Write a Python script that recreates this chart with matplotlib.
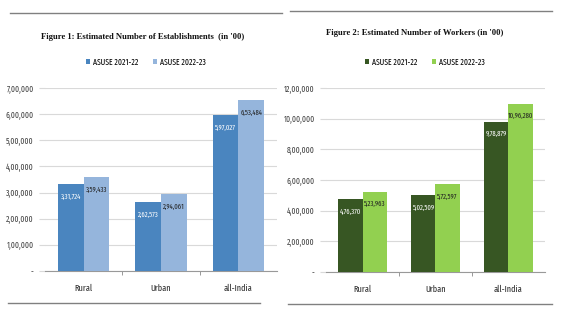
import numpy as np
import matplotlib
matplotlib.use("Agg")
from matplotlib import pyplot as plt
from matplotlib.lines import Line2D
from matplotlib.ticker import FuncFormatter

# Data (in '00)
regions = ["Rural", "Urban", "all-India"]
series_names = ["ASUSE 2021-22", "ASUSE 2022-23"]
estab_2122 = [331724, 262573, 597027]
estab_2223 = [359433, 294061, 653484]
workers_2122 = [476370, 502509, 978879]
workers_2223 = [523963, 572597, 1096280]

W, H = 567, 327
plt.rcParams["font.family"] = ["Fira Sans Extra Condensed", "DejaVu Sans"]
plt.rcParams["font.size"] = 6


def indian(v, pos=None):
    v = int(round(v))
    if v == 0:
        return "-"
    s = str(v)
    if len(s) <= 3:
        return s
    head, tail = s[:-3], s[-3:]
    parts = []
    while len(head) > 2:
        parts.insert(0, head[-2:])
        head = head[:-2]
    if head:
        parts.insert(0, head)
    return ",".join(parts) + "," + tail


def px(x0, y0, w, h):
    # pixel box (top-left origin) -> figure fraction rect
    return [x0 / W, 1 - (y0 + h) / H, w / W, h / H]


def draw(ax, a, b, colors, label_colors, ymax, step):
    x = np.arange(len(regions))
    bw = 0.33
    bars1 = ax.bar(x - bw / 2, a, bw, color=colors[0], label=series_names[0], zorder=3)
    bars2 = ax.bar(x + bw / 2, b, bw, color=colors[1], label=series_names[1], zorder=3)
    for bars, c in [(bars1, label_colors[0]), (bars2, label_colors[1])]:
        for r in bars:
            ax.annotate(indian(r.get_height()), (r.get_x() + r.get_width() / 2, r.get_height()),
                        xytext=(0, -9), textcoords="offset points", ha="center", va="center",
                        color=c, fontsize=5.2, zorder=4)
    ax.set_xlim(-0.5, len(regions) - 0.5)
    ax.set_ylim(0, ymax)
    ax.set_yticks(np.arange(0, ymax + 1, step))
    ax.yaxis.set_major_formatter(FuncFormatter(indian))
    ax.set_xticks(x)
    ax.set_xticklabels(regions)
    ax.set_xticks([0.5, 1.5], minor=True)
    ax.tick_params(axis="x", which="major", length=0, pad=9, labelsize=6.5, colors="#333333")
    ax.tick_params(axis="x", which="minor", length=3, color="#888888")
    ax.tick_params(axis="y", length=4, color="#d9d9d9", labelsize=6, labelcolor="#444444", pad=4)
    ax.grid(axis="y", color="#d9d9d9", linewidth=0.8, zorder=0)
    for s in ["top", "right", "left"]:
        ax.spines[s].set_visible(False)
    ax.spines["bottom"].set_color("#999999")


fig = plt.figure(figsize=(W / 100, H / 100), dpi=100)

ax1 = fig.add_axes(px(45, 88, 232, 183))
draw(ax1, estab_2122, estab_2223, ["#4a85bf", "#95b5dc"], ["white", "#222222"], 700000, 100000)

ax2 = fig.add_axes(px(326, 88, 219, 184))
draw(ax2, workers_2122, workers_2223, ["#375623", "#92d050"], ["white", "#222222"], 1200000, 200000)

# titles
title_font = ["Liberation Serif", "DejaVu Serif"]
fig.text(143 / W, 1 - 37 / H, "Figure 1: Estimated Number of Establishments  (in '00)",
         ha="center", va="center", fontsize=6.2, family=title_font, weight="bold", color="#111111")
fig.text(415 / W, 1 - 33 / H, "Figure 2: Estimated Number of Workers (in '00)",
         ha="center", va="center", fontsize=6.2, family=title_font, weight="bold", color="#111111")

# legends
h1, l1 = ax1.get_legend_handles_labels()
fig.legend(h1, l1, loc="center", bbox_to_anchor=(146 / W, 1 - 62 / H), ncol=2, frameon=False,
           fontsize=6, handlelength=0.5, handleheight=0.5, columnspacing=1.8, handletextpad=0.3)
h2, l2 = ax2.get_legend_handles_labels()
fig.legend(h2, l2, loc="center", bbox_to_anchor=(425 / W, 1 - 62 / H), ncol=2, frameon=False,
           fontsize=6, handlelength=0.5, handleheight=0.5, columnspacing=1.8, handletextpad=0.3)

# panel border lines
for (x0, x1, y) in [(10, 282, 13), (8, 260, 303), (290, 552, 11), (288, 552, 304)]:
    fig.add_artist(Line2D([x0 / W, x1 / W], [1 - y / H, 1 - y / H], color="#808080", linewidth=1))

fig.savefig("out.png", dpi=100)
